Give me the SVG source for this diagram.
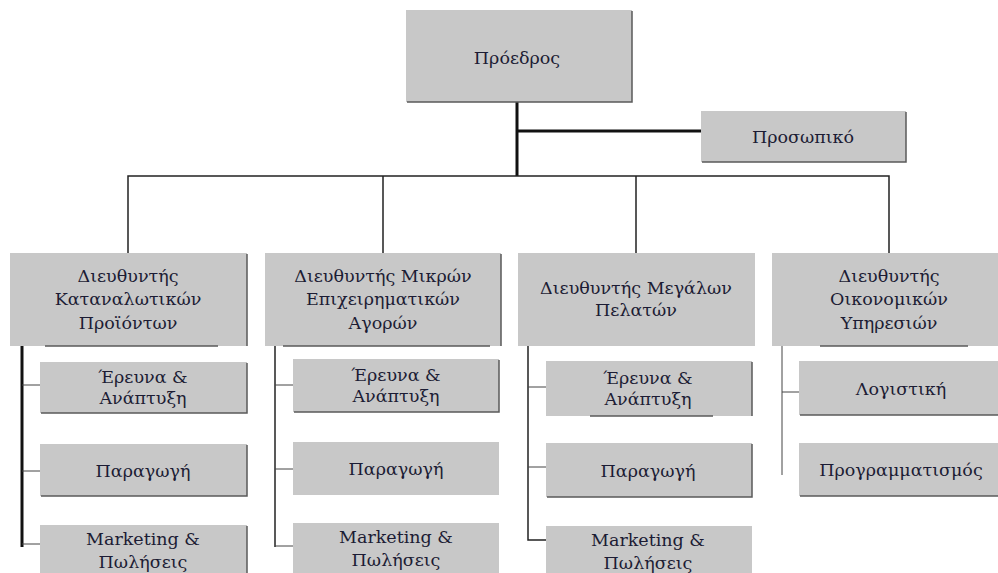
<svg xmlns="http://www.w3.org/2000/svg" width="998" height="573" viewBox="0 0 998 573">
<style>
.box{fill:#c8c8c8;stroke:none}
.sh{fill:none;stroke:#5a5a5a;stroke-width:1.5}
.t{font-family:'DejaVu Serif','Liberation Serif',serif;font-size:17.5px;fill:#1c1c34;text-anchor:middle}
.thick{stroke:#111;stroke-width:3;fill:none}
.thin{stroke:#222;stroke-width:1.5;fill:none}
.br{stroke:#444;stroke-width:1;fill:none}
</style>
<rect width="998" height="573" fill="#fff"/>
<g id="connectors">
<path class="thick" d="M517 102V176M517 131H701"/>
<path class="thin" d="M128 253V176H889V253M383 176V253M636 176V253"/>
<path class="thick" d="M22 346V547"/>
<path class="br" d="M22 385H40M22 471H40M22 544H40"/>
<path class="thin" d="M275 346V547"/>
<path class="br" d="M275 385H293M275 469H293M275 546H293"/>
<path class="thin" d="M528 346V540H546"/>
<path class="br" d="M528 387H546M528 467H546"/>
<path class="br" d="M782 346V475M782 392H799"/>
</g>
<g id="proedros">
<rect class="box" x="406" y="10" width="226" height="92"/>
<path class="sh" d="M632 11V102H407"/>
<text class="t" x="517" y="64">Πρόεδρος</text>
</g>
<g id="prosopiko">
<rect class="box" x="701" y="111" width="205" height="51"/>
<path class="sh" d="M906 112V162H702"/>
<text class="t" x="803" y="143">Προσωπικό</text>
</g>
<g id="dir1">
<rect class="box" x="10" y="253" width="237" height="93"/>
<path class="sh" d="M247 254V346M45 346H218"/>
<text class="t" x="128" y="282">Διευθυντής</text>
<text class="t" x="128" y="305">Καταναλωτικών</text>
<text class="t" x="128" y="329">Προϊόντων</text>
</g>
<g id="dir2">
<rect class="box" x="265" y="253" width="236" height="93"/>
<path class="sh" d="M501 254V346M283 346H490"/>
<text class="t" x="383" y="282">Διευθυντής Μικρών</text>
<text class="t" x="383" y="305">Επιχειρηματικών</text>
<text class="t" x="383" y="329">Αγορών</text>
</g>
<g id="dir3">
<rect class="box" x="518" y="253" width="237" height="93"/>
<text class="t" x="636" y="294">Διευθυντής Μεγάλων</text>
<text class="t" x="636" y="316">Πελατών</text>
</g>
<g id="dir4">
<rect class="box" x="772" y="253" width="230" height="93"/>
<path class="sh" d="M820 346H968"/>
<text class="t" x="889" y="282">Διευθυντής</text>
<text class="t" x="889" y="305">Οικονομικών</text>
<text class="t" x="889" y="329">Υπηρεσιών</text>
</g>
<g id="c1-rd">
<rect class="box" x="40" y="362" width="207" height="51"/>
<path class="sh" d="M247 363V413H41"/>
<text class="t" x="143" y="383">Έρευνα &amp;</text>
<text class="t" x="143" y="404">Ανάπτυξη</text>
</g>
<g id="c1-prod">
<rect class="box" x="40" y="444" width="207" height="52"/>
<path class="sh" d="M247 445V496H41"/>
<text class="t" x="143" y="477">Παραγωγή</text>
</g>
<g id="c1-mkt">
<rect class="box" x="40" y="525" width="207" height="50"/>
<path class="sh" d="M247 526V575"/>
<text class="t" x="143" y="545">Marketing &amp;</text>
<text class="t" x="143" y="568">Πωλήσεις</text>
</g>
<g id="c2-rd">
<rect class="box" x="293" y="359" width="206" height="53"/>
<path class="sh" d="M499 360V412H294"/>
<text class="t" x="396" y="381">Έρευνα &amp;</text>
<text class="t" x="396" y="402">Ανάπτυξη</text>
</g>
<g id="c2-prod">
<rect class="box" x="293" y="442" width="206" height="53"/>
<text class="t" x="396" y="475">Παραγωγή</text>
</g>
<g id="c2-mkt">
<rect class="box" x="293" y="523" width="206" height="52"/>
<text class="t" x="396" y="543">Marketing &amp;</text>
<text class="t" x="396" y="566">Πωλήσεις</text>
</g>
<g id="c3-rd">
<rect class="box" x="546" y="361" width="206" height="55"/>
<path class="sh" d="M752 362V416M590 416H713"/>
<text class="t" x="648" y="384">Έρευνα &amp;</text>
<text class="t" x="648" y="405">Ανάπτυξη</text>
</g>
<g id="c3-prod">
<rect class="box" x="546" y="443" width="206" height="54"/>
<path class="sh" d="M752 444V497H547"/>
<text class="t" x="648" y="477">Παραγωγή</text>
</g>
<g id="c3-mkt">
<rect class="box" x="546" y="526" width="206" height="49"/>
<text class="t" x="648" y="546">Marketing &amp;</text>
<text class="t" x="648" y="569">Πωλήσεις</text>
</g>
<g id="c4-log">
<rect class="box" x="799" y="361" width="205" height="54"/>
<path class="sh" d="M800 415H1000"/>
<text class="t" x="901" y="395">Λογιστική</text>
</g>
<g id="c4-prog">
<rect class="box" x="799" y="443" width="205" height="53"/>
<path class="sh" d="M800 496H1000"/>
<text class="t" x="901" y="476">Προγραμματισμός</text>
</g>
</svg>
